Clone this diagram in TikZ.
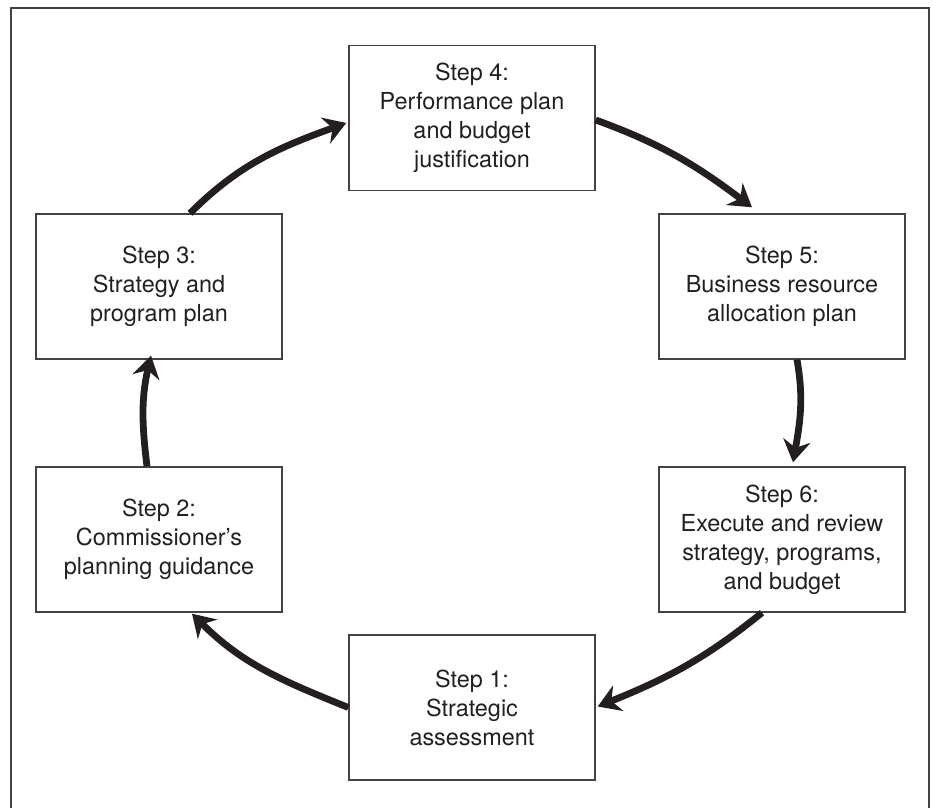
\documentclass[tikz,border=0pt]{standalone}
\usepackage{fontspec}
\setmainfont{TeX Gyre Heros}
\usepackage{tikz}
\usetikzlibrary{arrows.meta,calc}
\definecolor{ink}{HTML}{231F20}

\begin{document}
\begin{tikzpicture}[x=0.015cm,y=-0.015cm,
  stepbox/.style={draw=ink!85,line width=0.6pt,align=center,text=ink,
    minimum width=3.69cm,minimum height=2.175cm,inner sep=0pt,
    font=\fontsize{10pt}{12.4pt}\selectfont},
  cyclearrow/.style={draw=ink,line width=2.9pt,
    -{Stealth[length=3.3mm,width=4.1mm,inset=1.1mm]}}]
\useasboundingbox (0,0) rectangle (933,808);
\draw[ink!85,line width=0.6pt] (11,808) -- (11,8) -- (929,8) -- (929,808);

\node[stepbox] (step4) at (472,118) {Step 4:\\Performance plan\\and budget\\justification};
\node[stepbox] (step3) at (159,286.5) {Step 3:\\Strategy and\\program plan};
\node[stepbox] (step5) at (782,286.5) {Step 5:\\Business resource\\allocation plan};
\node[stepbox] (step2) at (159,539.5) {Step 2:\\Commissioner’s\\planning guidance};
\node[stepbox] (step6) at (782,539.5) {Step 6:\\Execute and review\\strategy, programs,\\and budget};
\node[stepbox] (step1) at (472,707.5) {Step 1:\\Strategic\\assessment};

% the cycle
\draw[cyclearrow] ($(step1.west)$) to[out=158,in=-45] ($(step2.south)+(33,1)$);
\draw[cyclearrow] ($(step2.north)+(-12,0)$) to[out=97,in=-103] ($(step3.south)+(-8,-4)$);
\draw[cyclearrow] ($(step3.north)+(31,0)$) to[out=45,in=200] ($(step4.west)+(-2,5)$);
\draw[cyclearrow] ($(step4.east)+(0,2)$) to[out=-20,in=143] ($(step5.north)+(-30,-6)$);
\draw[cyclearrow] ($(step5.south)+(15,0)$) to[out=-80,in=80] ($(step6.north)+(11,-4)$);
\draw[cyclearrow] ($(step6.south)+(-20,0)$) to[out=-141,in=22] ($(step1.east)+(2,-1)$);
\end{tikzpicture}
\end{document}
